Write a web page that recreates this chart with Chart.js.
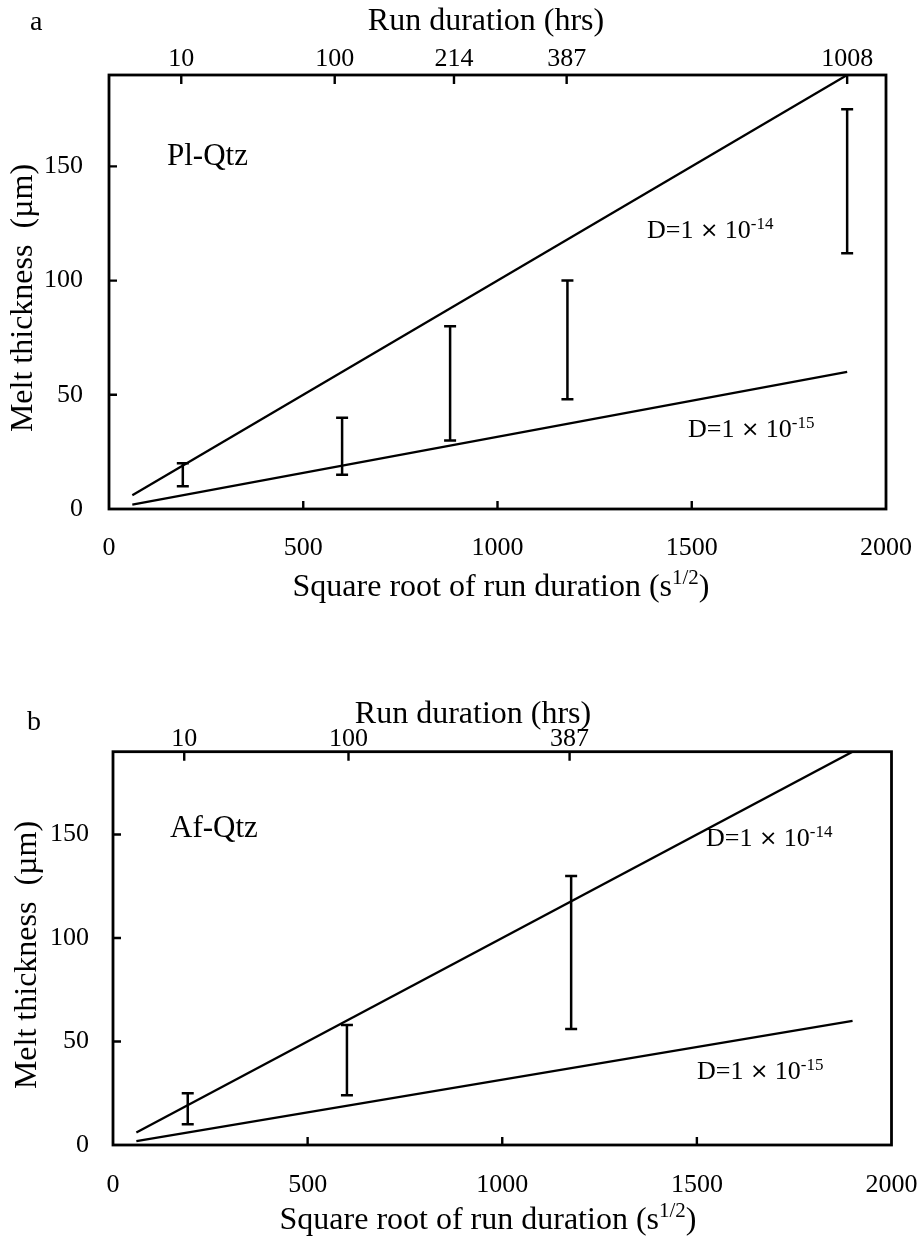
<!DOCTYPE html>
<html>
<head>
<meta charset="utf-8">
<script src="https://cdn.jsdelivr.net/npm/chart.js@4.4.0/dist/chart.umd.min.js"></script>
<style>
  body { margin: 0; background: #fff; }
  .panel { position: absolute; left: 0; width: 920px; height: 620px; }
</style>
</head>
<body>
<div class="panel" style="top:0"><canvas id="chartA" width="920" height="620"></canvas></div>
<div class="panel" style="top:620px"><canvas id="chartB" width="920" height="620"></canvas></div>
<script>
// axis ranges + ticks shared by both panels
var xTicks = [0, 500, 1000, 1500, 2000];
var yTicks = [0, 50, 100, 150];
var xMin = 0, xMax = 2000, yMin = 0, yMax = 190;

// diffusion lines, melt thickness vs sqrt(t)
var modelX = [60, 1900];
var modelD14 = [6, 190];
var modelD15 = [1.9, 60];

// panel a : Pl-Qtz runs
var plqTopTicks = [186, 581, 888, 1178, 1900];
var plqTopLabels = ['10', '100', '214', '387', '1008'];
var plqX = [190, 600, 878, 1180, 1900];
var plqLow = [10, 15, 30, 48, 112];
var plqHigh = [20, 40, 80, 100, 175];

// panel b : Af-Qtz runs
var afqTopTicks = [183, 605, 1173];
var afqTopLabels = ['10', '100', '387'];
var afqX = [192, 601, 1177];
var afqLow = [10, 24, 56];
var afqHigh = [25, 58, 130];

var FONT = '"Liberation Serif", "Times New Roman", serif';
var H = 620;

function font(size, fam) { return size + 'px ' + (fam || FONT); }

// draws a run of text pieces, some raised (superscripts)
function drawParts(ctx, x, y, parts, align) {
  var total = 0;
  parts.forEach(function(p) {
    ctx.font = font(p.size, p.fam);
    p.w = ctx.measureText(p.t).width;
    total += p.w;
  });
  var cx = align === 'center' ? x - total / 2 : x;
  ctx.textAlign = 'left';
  ctx.textBaseline = 'alphabetic';
  parts.forEach(function(p) {
    ctx.font = font(p.size, p.fam);
    ctx.fillText(p.t, cx, y - (p.rise || 0));
    cx += p.w;
  });
}

function dLabel(exp) {
  return [
    {t: 'D=1 ', size: 26},
    {t: '\u00d7', size: 22, fam: '"DejaVu Sans", sans-serif', rise: 1},
    {t: ' 10', size: 26},
    {t: exp, size: 17, rise: 9}
  ];
}

var framePlugin = {
  id: 'frame',
  afterDraw: function(chart, args, o) {
    var ctx = chart.ctx, ca = chart.chartArea;
    var xs = chart.scales.x, ys = chart.scales.y, xt = chart.scales.x2;
    ctx.save();
    ctx.strokeStyle = '#000';
    ctx.fillStyle = '#000';

    // box round the plot
    ctx.lineWidth = 2.8;
    ctx.strokeRect(ca.left, ca.top, ca.right - ca.left, ca.bottom - ca.top);

    // tick marks point inwards
    ctx.lineWidth = 2.4;
    ctx.beginPath();
    xTicks.forEach(function(v) {
      if (v <= xMin || v >= xMax) return;
      var px = xs.getPixelForValue(v);
      ctx.moveTo(px, ca.bottom); ctx.lineTo(px, ca.bottom - 8);
    });
    yTicks.forEach(function(v) {
      if (v <= yMin) return;
      var py = ys.getPixelForValue(v);
      ctx.moveTo(ca.left, py); ctx.lineTo(ca.left + 8, py);
    });
    o.topTicks.forEach(function(v) {
      var px = xt.getPixelForValue(v);
      ctx.moveTo(px, ca.top); ctx.lineTo(px, ca.top + 9);
    });
    ctx.stroke();

    // error bars (range of measured thickness)
    ctx.lineWidth = 2.5;
    ctx.beginPath();
    o.errX.forEach(function(v, i) {
      var px = xs.getPixelForValue(v);
      var lo = ys.getPixelForValue(o.errLow[i]);
      var hi = ys.getPixelForValue(o.errHigh[i]);
      ctx.moveTo(px, lo); ctx.lineTo(px, hi);
      ctx.moveTo(px - 6, lo); ctx.lineTo(px + 6, lo);
      ctx.moveTo(px - 6, hi); ctx.lineTo(px + 6, hi);
    });
    ctx.stroke();

    // labels
    var t = o.text;
    drawParts(ctx, t.letter[1], t.letter[2], [{t: t.letter[0], size: 28}], 'left');
    drawParts(ctx, t.topTitle[0], t.topTitle[1], [{t: 'Run duration (hrs)', size: 32}], 'center');
    drawParts(ctx, t.sample[1], t.sample[2], [{t: t.sample[0], size: 31}], 'left');
    drawParts(ctx, t.d14[0], t.d14[1], dLabel('-14'), 'left');
    drawParts(ctx, t.d15[0], t.d15[1], dLabel('-15'), 'left');
    drawParts(ctx, t.xTitle[0], t.xTitle[1], [
      {t: 'Square root of run duration (s', size: 32},
      {t: '1/2', size: 21, rise: 12},
      {t: ')', size: 32}
    ], 'center');

    ctx.save();
    ctx.translate(t.yTitle[0], t.yTitle[1]);
    ctx.rotate(-Math.PI / 2);
    ctx.font = font(32);
    ctx.textAlign = 'center';
    ctx.textBaseline = 'middle';
    ctx.fillText('Melt thickness  (\u00b5m)', 0, 0);
    ctx.restore();

    ctx.restore();
  }
};

// no extra edge room for the first/last tick label, the box is fixed
function noEdgePad(s) {
  s.paddingLeft = 0; s.paddingRight = 0;
  s.paddingTop = 0; s.paddingBottom = 0;
}

function makeChart(id, o) {
  var a = o.area;
  var tickFont = {family: FONT, size: 26};
  var line = function(ys) {
    return {
      data: modelX.map(function(x, i) { return {x: x, y: ys[i]}; }),
      showLine: true, borderColor: '#000', borderWidth: 2.3,
      pointRadius: 0, fill: false, xAxisID: 'x', yAxisID: 'y'
    };
  };
  return new Chart(document.getElementById(id), {
    type: 'scatter',
    data: { datasets: [line(modelD14), line(modelD15)] },
    options: {
      responsive: false,
      animation: false,
      devicePixelRatio: 1,
      layout: { padding: { left: 0, top: 0, bottom: 0, right: 920 - a.right } },
      plugins: { legend: { display: false }, tooltip: { enabled: false }, frame: o },
      scales: {
        x: {
          type: 'linear', position: 'bottom', min: xMin, max: xMax,
          grid: { display: false, drawTicks: false }, border: { display: false },
          afterBuildTicks: function(s) { s.ticks = xTicks.map(function(v) { return {value: v}; }); },
          afterFit: function(s) { s.height = H - a.bottom; noEdgePad(s); },
          ticks: { font: tickFont, color: '#000', padding: o.xPad, maxRotation: 0, autoSkip: false,
                   callback: function(v) { return String(v); } }
        },
        x2: {
          type: 'linear', position: 'top', min: xMin, max: xMax,
          grid: { display: false, drawTicks: false }, border: { display: false },
          afterBuildTicks: function(s) { s.ticks = o.topTicks.map(function(v) { return {value: v}; }); },
          afterFit: function(s) { s.height = a.top; noEdgePad(s); },
          ticks: { font: tickFont, color: '#000', padding: o.topPad, maxRotation: 0, autoSkip: false,
                   callback: function(v, i) { return o.topLabels[i]; } }
        },
        y: {
          type: 'linear', position: 'left', min: yMin, max: yMax,
          grid: { display: false, drawTicks: false }, border: { display: false },
          afterBuildTicks: function(s) { s.ticks = yTicks.map(function(v) { return {value: v}; }); },
          afterFit: function(s) { s.width = a.left; noEdgePad(s); },
          ticks: { font: tickFont, color: '#000', padding: o.yPad,
                   callback: function(v) { return String(v); } }
        }
      }
    },
    plugins: [framePlugin]
  });
}

makeChart('chartA', {
  area: { left: 109, right: 886, top: 75, bottom: 509 },
  xPad: 24, topPad: 0, yPad: 26,
  topTicks: plqTopTicks, topLabels: plqTopLabels,
  errX: plqX, errLow: plqLow, errHigh: plqHigh,
  text: {
    letter: ['a', 30, 30],
    topTitle: [486, 30],
    sample: ['Pl-Qtz', 167, 165],
    d14: [647, 238],
    d15: [688, 437],
    yTitle: [24, 298],
    xTitle: [501, 596]
  }
});

makeChart('chartB', {
  area: { left: 113, right: 891.5, top: 131.7, bottom: 525 },
  xPad: 25, topPad: -3, yPad: 24,
  topTicks: afqTopTicks, topLabels: afqTopLabels,
  errX: afqX, errLow: afqLow, errHigh: afqHigh,
  text: {
    letter: ['b', 27, 110],
    topTitle: [473, 103],
    sample: ['Af-Qtz', 170, 217],
    d14: [706, 226],
    d15: [697, 459],
    yTitle: [28, 335],
    xTitle: [488, 609]
  }
});
</script>
</body>
</html>
